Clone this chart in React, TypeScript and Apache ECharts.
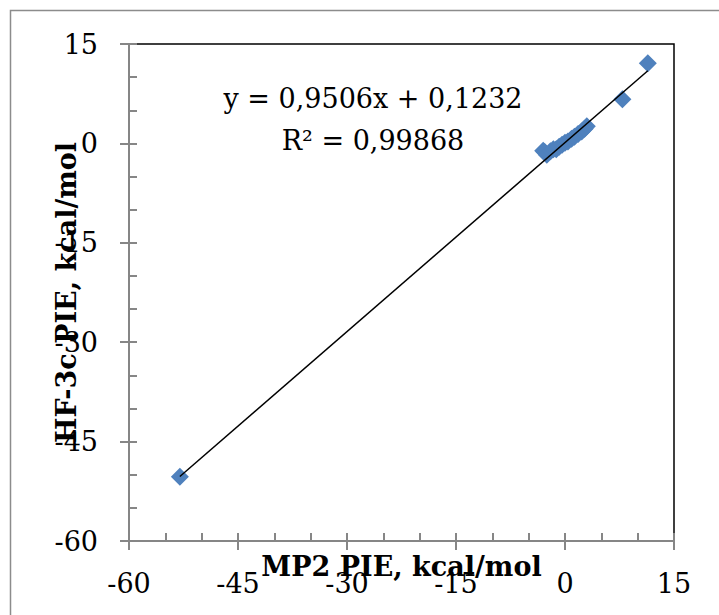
import React, { useEffect, useRef } from "react";
import * as echarts from "echarts";

// MP2 PIE (x) and HF-3c PIE (y), kcal/mol
const mp2 = [-53.0, -3.0, -2.8, -2.5, -2.0, -1.6, -1.2, -0.8, -0.4, 0.0, 0.4, 0.9, 1.3, 1.8, 2.3, 2.7, 3.0, 7.9, 11.4];
const hf3c = [-50.3, -1.1, -1.3, -1.7, -1.2, -0.9, -0.9, -0.5, -0.2, 0.1, 0.3, 0.7, 1.0, 1.4, 1.8, 2.2, 2.6, 6.65, 12.1];

// trendline from the displayed equation
const slope = 0.9506;
const intercept = 0.1232;
const eqText = "y = 0,9506x + 0,1232";
const r2Text = "R² = 0,99868";

const xTitle = "MP2 PIE, kcal/mol";
const yTitle = "HF-3c PIE, kcal/mol";
const axisMin = -60;
const axisMax = 15;
const labelStep = 15;
const tickStep = 5;

const FONT = "'DejaVu Serif', serif";
const GRAY = "#868686";

export default function App() {
  const ref = useRef<HTMLDivElement>(null);
  useEffect(() => {
    if (!ref.current) return;
    const chart = echarts.init(ref.current, null, { renderer: "svg" });
    const points = mp2.map((x, i) => [x, hf3c[i]]);
    const xs = [Math.min(...mp2), Math.max(...mp2)];
    const trend = xs.map((x) => [x, slope * x + intercept]);

    const majorAxis = (isX: boolean) => ({
      type: "value",
      min: axisMin,
      max: axisMax,
      interval: labelStep,
      position: isX ? "bottom" : "left",
      axisLine: { show: true, onZero: false, lineStyle: { color: GRAY, width: 2 } },
      axisTick: { show: true, inside: false, length: 9, lineStyle: { color: GRAY, width: 2 } },
      axisLabel: {
        show: true,
        margin: isX ? 29 : 31,
        fontFamily: FONT,
        fontSize: 27,
        color: "#000",
      },
      splitLine: { show: false },
      name: isX ? xTitle : yTitle,
      nameLocation: "middle",
      nameGap: isX ? 12 : 49,
      nameRotate: isX ? 0 : 90,
      nameMoveOverlap: false,
      nameTextStyle: { fontFamily: FONT, fontSize: 27, fontWeight: "bold", color: "#000" },
      z: 5,
    });
    const minorAxis = (isX: boolean) => ({
      type: "value",
      min: axisMin,
      max: axisMax,
      interval: tickStep,
      position: isX ? "bottom" : "left",
      offset: 0,
      axisLine: { show: false, onZero: false },
      axisTick: { show: true, inside: true, length: 8, lineStyle: { color: GRAY, width: 2 } },
      axisLabel: { show: false },
      splitLine: { show: false },
      z: 4,
    });

    chart.setOption({
      animation: false,
      backgroundColor: "#fff",
      grid: {
        left: 129,
        right: 45,
        top: 44,
        bottom: 74,
        containLabel: false,
        outerBoundsMode: "none",
        show: true,
        borderColor: "#000",
        borderWidth: 1.5,
        backgroundColor: "transparent",
      },
      xAxis: [majorAxis(true), minorAxis(true)],
      yAxis: [majorAxis(false), minorAxis(false)],
      series: [
        {
          type: "scatter",
          xAxisIndex: 0,
          yAxisIndex: 0,
          data: points,
          symbol: "diamond",
          symbolSize: 18,
          itemStyle: { color: "#4F81BD", opacity: 1 },
          z: 2,
        },
        {
          type: "line",
          xAxisIndex: 0,
          yAxisIndex: 0,
          data: trend,
          showSymbol: false,
          symbol: "none",
          lineStyle: { color: "#000", width: 1.5 },
          z: 3,
        },
      ],
      graphic: [
        {
          type: "rect",
          shape: { x: 10.5, y: 10.5, width: 760, height: 660 },
          style: { fill: "none", stroke: "#8c8c8c", lineWidth: 1.5 },
          silent: true,
        },
        {
          type: "text",
          x: 373,
          y: 98,
          style: {
            text: eqText,
            font: `27px ${FONT}`,
            fill: "#000",
            align: "center",
            verticalAlign: "middle",
          },
          z: 10,
        },
        {
          type: "text",
          x: 373,
          y: 140,
          style: {
            text: r2Text,
            font: `27px ${FONT}`,
            fill: "#000",
            align: "center",
            verticalAlign: "middle",
          },
          z: 10,
        },
      ],
    });
    return () => chart.dispose();
  }, []);
  return (
    <div
      ref={ref}
      style={{ position: "absolute", left: 0, top: 0, width: 719, height: 615 }}
    />
  );
}
